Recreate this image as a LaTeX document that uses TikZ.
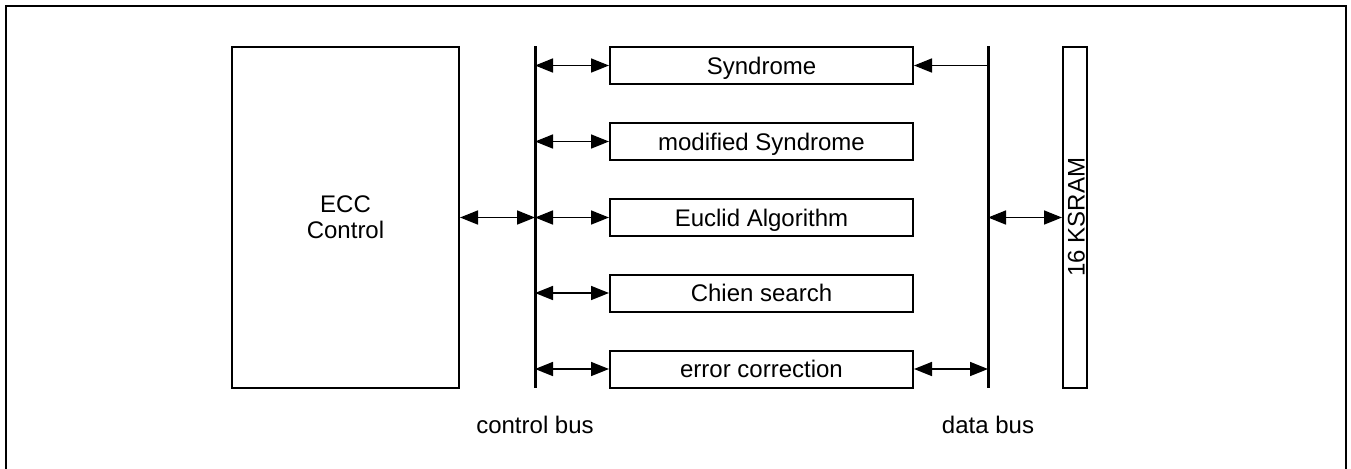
\documentclass[tikz,border=0pt]{standalone}
\usepackage{fontspec}
\setmainfont{Liberation Sans}
\usetikzlibrary{arrows.meta}
\begin{document}
\begin{tikzpicture}[x=0.5pt,y=-0.5pt,
  >={Triangle[length=9pt,width=7pt]},
  box/.style={draw,line width=1pt,inner sep=0pt,font=\fontsize{12}{14}\selectfont},
  fbox/.style={box,text height=8.6pt,text depth=0pt},
  bus/.style={line width=1.5pt},
  arr/.style={line width=0.8pt,<->},
  arrone/.style={line width=0.8pt,->},
  lbl/.style={font=\fontsize{12}{14}\selectfont,inner sep=0pt,text height=8.6pt,text depth=0pt}]
\useasboundingbox (0,0) rectangle (1351,468);
% frame (bottom edge cropped)
\draw[line width=1pt] (6,470) -- (6,6) -- (1346,6) -- (1346,470);
% ECC control
\node[box,minimum width=113.5pt,minimum height=170.5pt,align=center] (ecc) at (345.5,217.5) {ECC\\[-1pt]Control};
% buses
\coordinate (cbt) at (535,46); \coordinate (cbb) at (535,388);
\coordinate (dbt) at (988,46); \coordinate (dbb) at (988,388);
\draw[bus] (cbt) -- (cbb);
\draw[bus] (dbt) -- (dbb);
% function boxes
\foreach \n/\y/\t in {syn/65.5/Syndrome, mod/141.5/modified Syndrome, euc/217.5/Euclid Algorithm, chi/293/Chien search, err/369/error correction}{
  \node[fbox,minimum width=151.5pt,minimum height=18.5pt] (\n) at (761.5,\y) {\t};
  \draw[arr] (\n.west -| cbt) -- (\n.west);
}
% KSRAM
\node[box,minimum width=12pt,minimum height=170.5pt] (ram) at (1075,217.5) {};
\node[lbl,rotate=90] (ramt) at (1076,217) {16 KSRAM};
% connectors
\draw[arr] (ecc.east) -- (ecc.east -| cbt);
\draw[arrone] (syn.east -| dbt) -- (syn.east);
\draw[arr] (err.east) -- (err.east -| dbt);
\draw[arr] (ram.west -| dbt) -- (ram.west);
% labels
\node[lbl] (cbl) at (535,425) {control bus};
\node[lbl] (dbl) at (988,425) {data bus};
\end{tikzpicture}
\end{document}
